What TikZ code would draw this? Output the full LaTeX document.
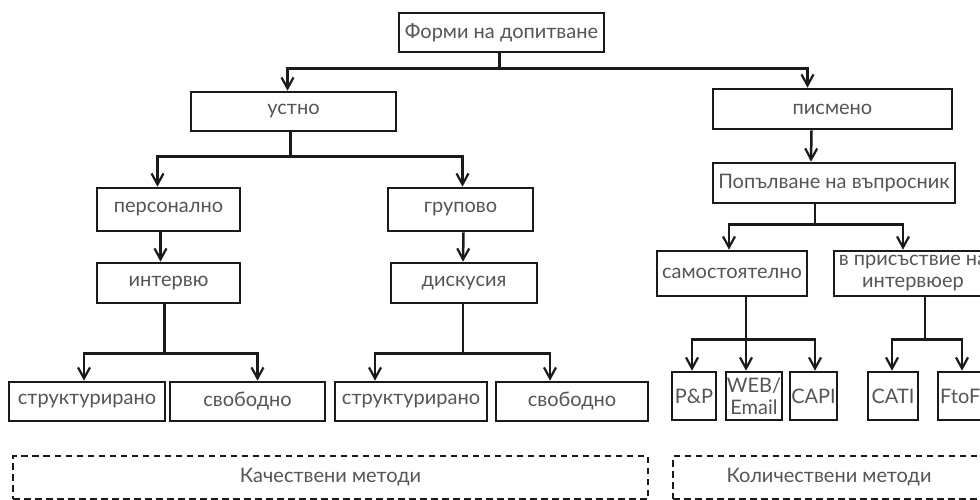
\documentclass[tikz,border=0pt]{standalone}
\usepackage{fontspec}
\setmainfont{Lato}
\usetikzlibrary{arrows.meta}
\definecolor{txt}{HTML}{555555}
\definecolor{ln}{HTML}{1A1A1A}
\tikzset{
  box/.style={draw=ln, line width=2.6pt, fill=white, inner sep=0pt, text=txt,
    font=\fontsize{20}{22}\selectfont, align=center},
  dbox/.style={draw=ln, line width=2.2pt, dash pattern=on 6.5pt off 4.5pt,
    inner sep=0pt, text=txt, font=\fontsize{20}{22}\selectfont},
  arr/.style={draw=ln, line width=2.5pt,
    -{Straight Barb[length=11pt,width=12pt,line width=2.2pt]}},
  ln/.style={draw=ln, line width=2.5pt},
}
\newcommand{\bx}[6]{% name, x1, y1, x2, y2, text
  \node[box, minimum width={(#4-#2)*1pt}, minimum height={(#5-#3)*1pt}]
    (#1) at ({(#2+#4)/2},{(#3+#5)/2}) {#6};}
\begin{document}
\begin{tikzpicture}[x=1pt,y=-1pt]
\useasboundingbox (0,0) rectangle (980,500);
\fill[white] (0,0) rectangle (980,500);
% boxes
\bx{top}{399}{13}{604}{52}{Форми на допитване}
\bx{ustno}{191}{92}{396}{131}{устно}
\bx{pism}{713}{89}{952}{129}{писмено}
\bx{pers}{97}{188}{240}{231}{персонално}
\bx{grup}{388}{188}{533}{231}{групово}
\bx{interv}{97}{263}{240}{303}{интервю}
\bx{disk}{391}{263}{537}{303}{дискусия}
\bx{strA}{9}{382}{165}{421}{структурирано}
\bx{svobA}{170}{382}{325}{421}{свободно}
\bx{strB}{335}{382}{487}{421}{структурирано}
\bx{svobB}{496}{382}{648}{421}{свободно}
\bx{popal}{713}{163}{955}{203}{Попълване на въпросник}
\bx{samost}{657}{251}{807}{296}{самостоятелно}
\bx{prisas}{834}{251}{992}{296}{в присъствие на\\интервюер}
\bx{pp}{672}{372}{716}{420}{P\&P}
\bx{web}{726}{372}{782}{420}{WEB/\\Email}
\bx{capi}{790}{372}{837}{420}{CAPI}
\bx{cati}{868}{372}{918}{420}{CATI}
\node[box, minimum width=52pt, minimum height=48pt, text width=50pt, align=left]
  (ftof) at (964,396) {\hspace*{1pt}FtoF};
% dashed group boxes
\node[dbox, minimum width=635pt, minimum height=43pt] (qual) at (330.5,477.5) {Качествени методи};
\node[dbox, minimum width=312pt, minimum height=43pt] (quant) at (829,477.5) {Количествени методи};
% connectors
\draw[ln] ([xshift=-2pt]top.south) -- ++(0,15) coordinate (j0);
\draw[arr] (j0) -| ([xshift=-6pt]ustno.north);
\draw[arr] (j0) -| ([xshift=-25pt]pism.north);
\draw[ln] ([xshift=-3pt]ustno.south) -- ++(0,24) coordinate (j1);
\draw[arr] (j1) -| ([xshift=-11pt]pers.north);
\draw[arr] (j1) -| ([xshift=2pt]grup.north);
\draw[arr] ([xshift=-8pt]pers.south) -- ([xshift=-8pt]interv.north);
\draw[arr] ([xshift=3pt]grup.south) -- ([xshift=-1pt]disk.north);
\draw[ln] ([xshift=-4pt]interv.south) -- ++(0,49) coordinate (j2);
\draw[arr] (j2) -| ([xshift=-3pt]strA.north);
\draw[arr] (j2) -| ([xshift=10pt]svobA.north);
\draw[ln] ([xshift=-1pt]disk.south) -- ++(0,49) coordinate (j3);
\draw[arr] (j3) -| ([xshift=-36pt]strB.north);
\draw[arr] (j3) -| ([xshift=-22pt]svobB.north);
\draw[arr] ([xshift=-21pt]pism.south) -- ([xshift=-23pt]popal.north);
\draw[ln] ([xshift=-19pt]popal.south) -- ++(0,20) coordinate (j4);
\draw[arr] (j4) -| ([xshift=-3pt]samost.north);
\draw[arr] (j4) -| ([xshift=-10pt]prisas.north);
\draw[ln] ([xshift=14pt]samost.south) -- ++(0,42) coordinate (j5);
\draw[arr] (j5) -| ([xshift=-2pt]pp.north);
\draw[arr] (j5) -| ([xshift=-8pt]web.north);
\draw[arr] (j5) -| ([xshift=1.5pt]capi.north);
\draw[ln] ([xshift=12pt]prisas.south) -- ++(0,42) coordinate (j6);
\draw[arr] (j6) -| ([xshift=-1pt]cati.north);
\draw[arr] (j6) -| ([xshift=-2pt]ftof.north);
\end{tikzpicture}
\end{document}
